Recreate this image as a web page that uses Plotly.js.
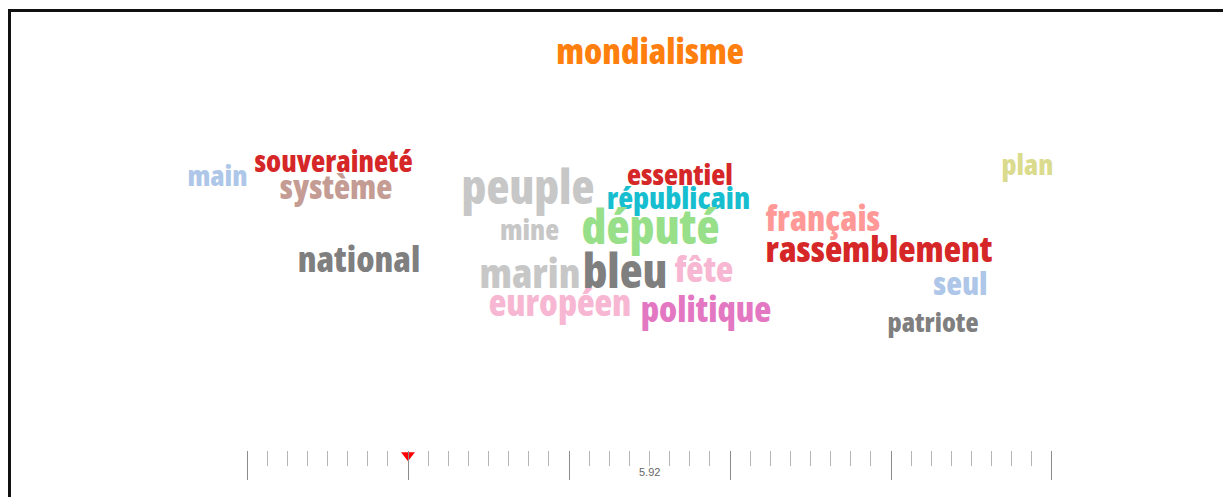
<!DOCTYPE html>
<html>
<head>
<meta charset="utf-8">
<script src="https://cdn.plot.ly/plotly-3.0.1.min.js"></script>
<style>
  html, body { margin: 0; padding: 0; background: #ffffff; overflow: hidden; }
  #frame { position: absolute; left: 8px; top: 9px; width: 1400px; height: 700px;
           border-left: 3px solid #111; border-top: 3px solid #111; }
  #chart { position: absolute; left: 0; top: 0; width: 1223px; height: 497px; }
  #chart .textpoint text { font-stretch: 75%; }
</style>
</head>
<body>
<div id="frame"></div>
<div id="chart"></div>
<script>
// ---- data ----
const words = ["mondialisme", "main", "souveraineté", "système", "peuple", "essentiel",
  "républicain", "plan", "mine", "député", "français", "rassemblement", "national",
  "marin", "bleu", "fête", "seul", "européen", "politique", "patriote"];
const weights = [35.3, 29, 29.3, 33.2, 47.4, 29, 30.6, 28.7, 28.6, 47.6, 34.6, 35.7, 35.6,
  41.2, 47, 35.6, 32.5, 36.4, 35.1, 27];

// ruler (slider) values
const rulerMin = 0;
const rulerMax = 40;
const rulerMajorStep = 8;
const rulerMinorStep = 1;
const rulerCurrent = 8;
const rulerLabel = "5.92";
const rulerLabelAt = 20;

// ---- layout of the cloud (placement, in pixel units of the main axes) ----
const wordX = [650, 217.5, 333.5, 336, 528, 680, 678.5, 1027.5, 529.5, 650.5, 823, 879, 359,
  530, 625, 704, 960.5, 560, 706, 933];
const wordY = [55.1, 178.3, 164.2, 190.9, 192.4, 177.3, 201.8, 167.5, 232.5, 231.8, 222.4,
  253, 263, 278.1, 276, 273, 287.1, 306.8, 313.2, 325];
const wordColors = ["#ff7f0e", "#aec7e8", "#d62728", "#c49c94", "#c7c7c7", "#d62728",
  "#17becf", "#dbdb8d", "#c7c7c7", "#98df8a", "#ff9896", "#d62728", "#7f7f7f",
  "#c7c7c7", "#7f7f7f", "#f7b6d2", "#aec7e8", "#f7b6d2", "#e377c2", "#7f7f7f"];

const W = 1223, H = 497;
const cloudFont = '"Open Sans", Roboto, sans-serif';

const traces = [
  {
    type: "scatter", mode: "text",
    x: wordX, y: wordY, text: words,
    textposition: "middle center",
    textfont: { family: cloudFont, size: weights, color: wordColors, weight: 800 },
    hoverinfo: "text",
    cliponaxis: false,
    showlegend: false,
    xaxis: "x", yaxis: "y"
  },
  {
    type: "scatter", mode: "markers",
    x: [rulerCurrent], y: [0.91],
    marker: { symbol: "triangle-down", size: 12, color: "#ff0000", line: { width: 0 } },
    hoverinfo: "x",
    cliponaxis: false,
    showlegend: false,
    xaxis: "x2", yaxis: "y2"
  }
];

const rulerTop = 1 - 451 / H;
const pad = 0.05;

const layout = {
  width: W, height: H,
  margin: { l: 0, r: 0, t: 0, b: 0, pad: 0 },
  paper_bgcolor: "rgba(0,0,0,0)",
  plot_bgcolor: "rgba(0,0,0,0)",
  showlegend: false,
  xaxis: { domain: [0, 1], range: [0, W], visible: false, fixedrange: true },
  yaxis: { domain: [0, 1], range: [H, 0], visible: false, fixedrange: true },
  xaxis2: {
    domain: [246 / W, 1053 / W],
    range: [rulerMin - pad, rulerMax + pad],
    anchor: "y2",
    side: "top",
    showgrid: false, zeroline: false, showline: false,
    showticklabels: false,
    ticks: "inside",
    tickmode: "linear", tick0: rulerMin, dtick: rulerMajorStep,
    ticklen: 29, tickwidth: 1, tickcolor: "#8c8c8c",
    minor: { ticks: "inside", dtick: rulerMinorStep, tick0: rulerMin, ticklen: 15, tickwidth: 1, tickcolor: "#b4b4b4", showgrid: false },
    fixedrange: true
  },
  yaxis2: { domain: [0, rulerTop], range: [0, 1], visible: false, anchor: "x2", fixedrange: true },
  annotations: [
    {
      x: rulerLabelAt, xref: "x2", y: 1 - 472 / H, yref: "paper",
      text: rulerLabel, showarrow: false,
      font: { family: "Liberation Sans, Arial, sans-serif", size: 11, color: "#666666" },
      xanchor: "center", yanchor: "middle"
    }
  ]
};

Plotly.newPlot("chart", traces, layout, { displayModeBar: false, staticPlot: true });
</script>
</body>
</html>
